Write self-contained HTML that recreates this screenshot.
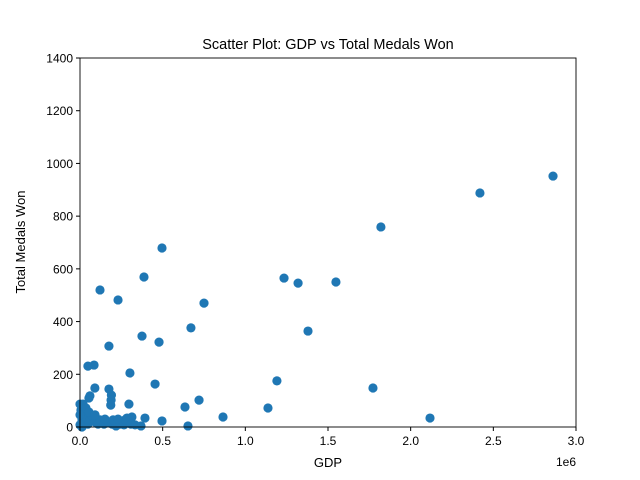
<!DOCTYPE html>
<html><head><meta charset="utf-8"><style>
body{margin:0;background:#fff}
svg{display:block;font-family:"Liberation Sans","DejaVu Sans",sans-serif}
</style></head><body>
<svg id="chart" width="640" height="480">
<rect width="640" height="480" fill="#fff"/>
<text x="328" y="49" text-anchor="middle" font-size="14.5">Scatter Plot: GDP vs Total Medals Won</text>
<g id="marks"></g>
<g id="axes"></g>
<text x="328" y="467" text-anchor="middle" font-size="13">GDP</text>
<text transform="translate(25,242) rotate(-90)" text-anchor="middle" font-size="13">Total Medals Won</text>
<text x="576" y="466" text-anchor="end" font-size="12">1e6</text>
</svg>
<script>
const gdp=[2861000,2419000,1820000,1548000,1319000,1234000,1379000,496000,387000,121000,230000,750000,671000,375000,478000,175000,85000,48000,302000,454000,1191000,1772000,90000,175000,190000,188000,186000,54000,60000,296000,720000,635000,1137000,865000,2117000,496000,393000,653000,369000,314000,284000,
6000,12000,24000,36000,48000,60000,73000,91000,109000,121000,145000,169000,194000,218000,242000,266000,0,18000,36000,54000,91000,151000,200000,272000,230000,308000,333000,0,0,12000];
const medals=[952,888,759,550,546,565,364,679,569,520,482,470,376,345,322,307,235,231,205,163,175,148,148,144,121,102,83,110,118,87,102,76,72,38,34,23,34,4,4,38,34,
64,27,49,34,11,27,42,19,11,27,11,19,11,4,11,8,87,87,72,57,46,30,27,27,30,11,8,46,8,0];
const xTicks=[0,0.5,1.0,1.5,2.0,2.5,3.0];
const xTickLabels=["0.0","0.5","1.0","1.5","2.0","2.5","3.0"];
const yTicks=[0,200,400,600,800,1000,1200,1400];
const L=80,R=576,T=58,B=427;
const xs=v=>L+(v/3e6)*(R-L);
const ys=v=>B-(v/1400)*(B-T);
const NS="http://www.w3.org/2000/svg";
const marks=document.getElementById('marks'),axes=document.getElementById('axes');
gdp.forEach((g,i)=>{
 const c=document.createElementNS(NS,'circle');
 c.setAttribute('cx',xs(g));c.setAttribute('cy',ys(medals[i]));c.setAttribute('r',4.6);c.setAttribute('fill','#1f77b4');
 
 
 marks.appendChild(c);
});
const fr=document.createElementNS(NS,'rect');
fr.setAttribute('x',L);fr.setAttribute('y',T);fr.setAttribute('width',R-L);fr.setAttribute('height',B-T);
fr.setAttribute('fill','none');fr.setAttribute('stroke','#000');fr.setAttribute('stroke-width','0.9');


axes.appendChild(fr);
xTicks.forEach((t,i)=>{
 const x=xs(t*1e6);
 const l=document.createElementNS(NS,'line');
 l.setAttribute('x1',x);l.setAttribute('x2',x);l.setAttribute('y1',B);l.setAttribute('y2',B+4);l.setAttribute('stroke','#000');
 
 
 axes.appendChild(l);
 const tx=document.createElementNS(NS,'text');
 tx.setAttribute('x',x);tx.setAttribute('y',B+18);tx.setAttribute('text-anchor','middle');tx.setAttribute('font-size','12');
 tx.textContent=xTickLabels[i];
 
 
 axes.appendChild(tx);
});
yTicks.forEach(t=>{
 const y=ys(t);
 const l=document.createElementNS(NS,'line');
 l.setAttribute('x1',L-4);l.setAttribute('x2',L);l.setAttribute('y1',y);l.setAttribute('y2',y);l.setAttribute('stroke','#000');
 
 
 axes.appendChild(l);
 const tx=document.createElementNS(NS,'text');
 tx.setAttribute('x',L-7);tx.setAttribute('y',y+4.5);tx.setAttribute('text-anchor','end');tx.setAttribute('font-size','12');
 tx.textContent=t;
 
 
 axes.appendChild(tx);
});
</script>
</body></html>
